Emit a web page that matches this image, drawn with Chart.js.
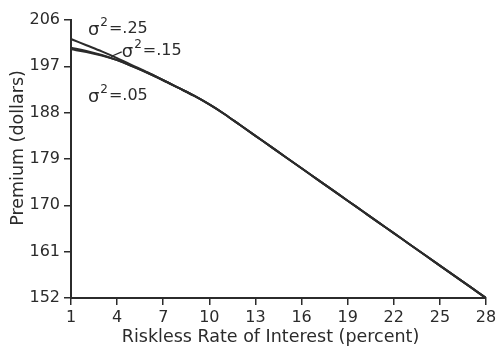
<!DOCTYPE html>
<html lang="en">
<head>
<meta charset="UTF-8">
<title>Premium vs Riskless Rate</title>
<script src="https://cdn.jsdelivr.net/npm/chart.js"></script>
<style>
  html, body { margin: 0; padding: 0; background: #fff; }
  canvas { display: block; }
</style>
</head>
<body>
<canvas id="grafico" width="500" height="348"></canvas>
<script>
// riskless rate (percent)
const rates = [1, 2, 3, 4, 5, 6, 7, 8, 9, 10, 11, 12, 13, 14, 15, 16, 17, 18, 19, 20, 21, 22, 23, 24, 25, 26, 27, 28];
// premium (dollars) for each variance
const prem25 = [202.3, 201.1, 199.9, 198.6, 197.2, 195.8, 194.3, 192.8, 191.3, 189.6, 187.7, 185.6, 183.5, 181.4, 179.3, 177.2, 175.1, 173.0, 170.9, 168.8, 166.7, 164.6, 162.5, 160.4, 158.3, 156.2, 154.1, 152.0];
const prem15 = [200.6, 200.0, 199.2, 198.2, 197.0, 195.7, 194.3, 192.8, 191.3, 189.6, 187.7, 185.6, 183.5, 181.4, 179.3, 177.2, 175.1, 173.0, 170.9, 168.8, 166.7, 164.6, 162.5, 160.4, 158.3, 156.2, 154.1, 152.0];
const prem05 = [200.3, 199.8, 199.1, 198.2, 197.0, 195.7, 194.3, 192.8, 191.3, 189.6, 187.7, 185.6, 183.5, 181.4, 179.3, 177.2, 175.1, 173.0, 170.9, 168.8, 166.7, 164.6, 162.5, 160.4, 158.3, 156.2, 154.1, 152.0];
const xTicks = [1, 4, 7, 10, 13, 16, 19, 22, 25, 28];
const yTicks = [152, 161, 170, 179, 188, 197, 206];
const xTitle = 'Riskless Rate of Interest (percent)';
const yTitle = 'Premium (dollars)';
// curve labels: text after sigma^2, anchor (rate, premium)
const curveLabels = [
    { text: '=.25', x: 2.1, y: 204.4 },
    { text: '=.15', x: 4.3, y: 200.2 },
    { text: '=.05', x: 2.1, y: 191.4 }
];

const ink = '#2b2b2b';
const font = '"DejaVu Sans", Verdana, sans-serif';

function toPoints(ys) {
    return rates.map((r, i) => ({ x: r, y: ys[i] }));
}

const lineStyle = { borderColor: ink, borderWidth: 2, pointRadius: 0, fill: false, cubicInterpolationMode: 'monotone' };

// sigma^2 labels, leader for the middle curve, and the axis titles
const labelPlugin = {
    id: 'curveLabels',
    afterDraw(chart) {
        const c = chart.ctx, xs = chart.scales.x, ys = chart.scales.y, a = chart.chartArea;
        c.save();
        c.fillStyle = ink;
        c.textBaseline = 'middle';
        c.textAlign = 'left';
        curveLabels.forEach(l => {
            let px = xs.getPixelForValue(l.x), py = ys.getPixelForValue(l.y);
            c.font = '18px ' + font;
            c.fillText('σ', px, py + 2);
            px += c.measureText('σ').width + 1;
            c.font = '12px ' + font;
            c.fillText('2', px, py - 5);
            px += c.measureText('2').width + 1;
            c.font = '16px ' + font;
            c.fillText(l.text, px, py + 1);
        });
        c.strokeStyle = ink;
        c.lineWidth = 1.2;
        c.beginPath();
        c.moveTo(xs.getPixelForValue(3.6), ys.getPixelForValue(198.9));
        c.lineTo(xs.getPixelForValue(4.3), ys.getPixelForValue(199.8));
        c.stroke();

        c.textAlign = 'center';
        c.font = '17.5px ' + font;
        c.fillText(xTitle, (a.left + a.right) / 2 - 8, 337);
        c.translate(18, (a.top + a.bottom) / 2 - 11);
        c.rotate(-Math.PI / 2);
        c.fillText(yTitle, 0, 0);
        c.restore();
    }
};

const ctx = document.getElementById('grafico').getContext('2d');
new Chart(ctx, {
    type: 'line',
    data: {
        datasets: [
            Object.assign({ label: 'σ²=.25', data: toPoints(prem25) }, lineStyle),
            Object.assign({ label: 'σ²=.15', data: toPoints(prem15) }, lineStyle),
            Object.assign({ label: 'σ²=.05', data: toPoints(prem05) }, lineStyle)
        ]
    },
    options: {
        responsive: false,
        animation: false,
        layout: { padding: { top: 20, right: 14, left: 0, bottom: 0 } },
        plugins: { legend: { display: false }, tooltip: { enabled: false } },
        scales: {
            x: {
                type: 'linear',
                min: 1,
                max: 28,
                afterBuildTicks: s => { s.ticks = xTicks.map(v => ({ value: v })); },
                afterFit: s => { s.height = 50; },
                grid: { drawOnChartArea: false, color: ink, tickLength: 7, lineWidth: 1.5 },
                border: { color: ink, width: 2 },
                ticks: { color: ink, font: { size: 16, family: font }, padding: 3 }
            },
            y: {
                type: 'linear',
                min: 152,
                max: 206,
                afterBuildTicks: s => { s.ticks = yTicks.map(v => ({ value: v })); },
                afterFit: s => { s.width = 71; },
                grid: { drawOnChartArea: false, color: ink, tickLength: 7, lineWidth: 1.5 },
                border: { color: ink, width: 2 },
                ticks: { color: ink, font: { size: 16, family: font }, padding: 4 }
            }
        }
    },
    plugins: [labelPlugin]
});
</script>
</body>
</html>
